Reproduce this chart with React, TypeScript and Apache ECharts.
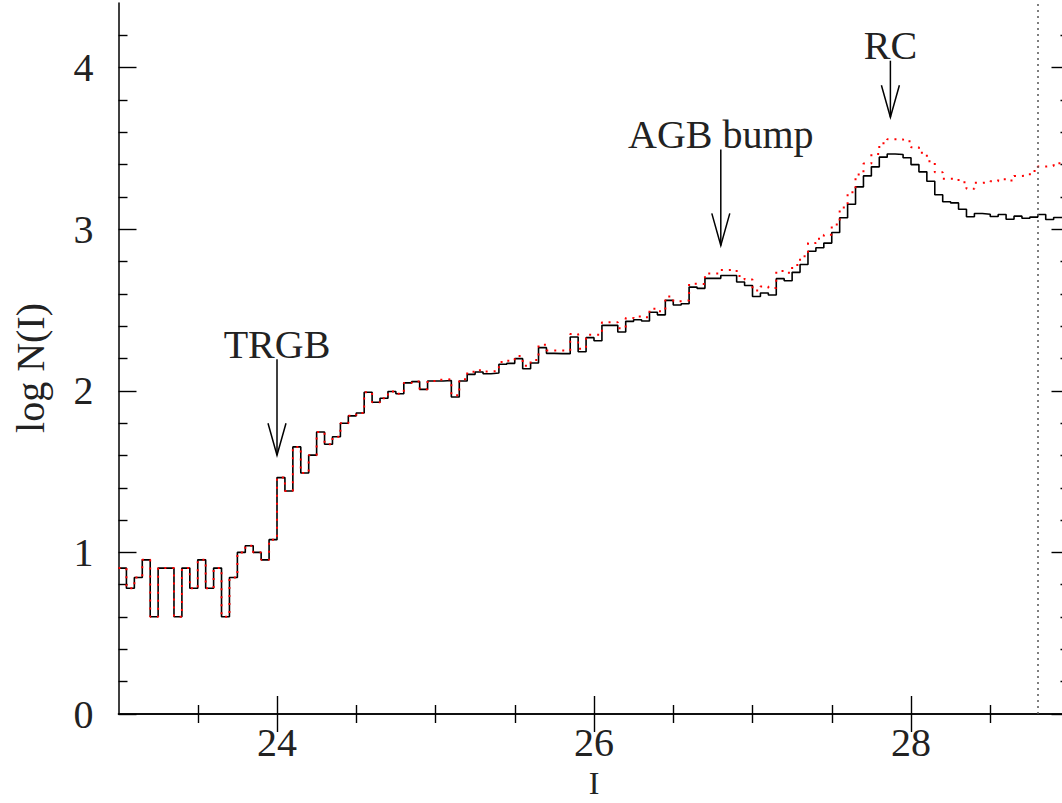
import React, { useEffect, useRef } from "react";
import * as echarts from "echarts";

// Histogram bins: left edges start at 23.00, width 0.05 mag
const BIN_START = 23.0;
const BIN_WIDTH = 0.05;

// log N(I) observed (black solid histogram)
const observedLogN = [
  0.903, 0.778, 0.845, 0.954, 0.602, 0.903, 0.903, 0.602, 0.903, 0.778,
  0.954, 0.778, 0.903, 0.602, 0.845, 1.0, 1.041, 1.0, 0.954, 1.079,
  1.463, 1.38, 1.653, 1.491, 1.602, 1.745, 1.669, 1.716, 1.799, 1.845,
  1.863, 1.991, 1.929, 1.954, 1.996, 1.982, 2.049, 2.057, 2.009, 2.061,
  2.061, 2.064, 1.962, 2.061, 2.102, 2.116, 2.106, 2.11, 2.164, 2.17,
  2.199, 2.137, 2.172, 2.267, 2.232, 2.23, 2.23, 2.333, 2.242, 2.329,
  2.31, 2.405, 2.405, 2.364, 2.43, 2.44, 2.432, 2.486, 2.47, 2.56,
  2.531, 2.539, 2.642, 2.634, 2.696, 2.696, 2.714, 2.714, 2.673, 2.652,
  2.584, 2.605, 2.593, 2.694, 2.681, 2.733, 2.782, 2.864, 2.885, 2.914,
  2.98, 3.071, 3.155, 3.262, 3.33, 3.386, 3.446, 3.466, 3.462, 3.442,
  3.4, 3.355, 3.297, 3.213, 3.17, 3.163, 3.124, 3.077, 3.097, 3.093,
  3.079, 3.091, 3.062, 3.081, 3.068, 3.075, 3.091, 3.06, 3.073, 3.07,
];

// log N(I) corrected (red dotted histogram)
const correctedLogN = [
  0.903, 0.778, 0.845, 0.954, 0.602, 0.903, 0.903, 0.602, 0.903, 0.778,
  0.954, 0.778, 0.903, 0.602, 0.845, 1.0, 1.041, 1.0, 0.954, 1.079,
  1.463, 1.38, 1.653, 1.491, 1.602, 1.745, 1.669, 1.716, 1.799, 1.845,
  1.863, 1.991, 1.929, 1.954, 1.996, 1.982, 2.049, 2.057, 2.009, 2.061,
  2.068, 2.072, 1.972, 2.072, 2.118, 2.128, 2.12, 2.122, 2.178, 2.186,
  2.215, 2.155, 2.19, 2.285, 2.25, 2.25, 2.248, 2.351, 2.261, 2.347,
  2.346, 2.424, 2.424, 2.387, 2.45, 2.46, 2.455, 2.508, 2.493, 2.584,
  2.555, 2.559, 2.663, 2.661, 2.726, 2.726, 2.747, 2.749, 2.71, 2.689,
  2.621, 2.646, 2.636, 2.741, 2.731, 2.778, 2.832, 2.914, 2.941, 2.966,
  3.029, 3.134, 3.229, 3.339, 3.406, 3.466, 3.532, 3.557, 3.557, 3.545,
  3.507, 3.473, 3.421, 3.353, 3.312, 3.312, 3.291, 3.25, 3.287, 3.291,
  3.297, 3.31, 3.302, 3.33, 3.334, 3.361, 3.388, 3.392, 3.409, 3.41,
];

// Axis ticks
const xMajorTicks = [24, 26, 28];
const xMinorTicks = [23.5, 24.5, 25, 25.5, 26.5, 27, 27.5, 28.5];
const yMajorTicks = [0, 1, 2, 3, 4];
const yMinorTicks = [
  0.2, 0.4, 0.6, 0.8, 1.2, 1.4, 1.6, 1.8, 2.2, 2.4, 2.6, 2.8, 3.2, 3.4, 3.6,
  3.8, 4.2,
];

// Completeness limit (dotted vertical line)
const limitMag = 28.8;

// Annotations
const annoLabels = ["TRGB", "AGB bump", "RC"];
const annoX = [24.0, 26.8, 27.87];
const annoTop = [2.195, 3.493, 4.043];
const annoTip = [1.601, 2.9, 3.693];

const FONT = "Liberation Serif";
const TEXT_COLOR = "#222";

function toSteps(vals: number[]) {
  const pts: number[][] = vals.map((v, i) => [
    +(BIN_START + i * BIN_WIDTH).toFixed(3),
    v,
  ]);
  pts.push([
    +(BIN_START + vals.length * BIN_WIDTH).toFixed(3),
    vals[vals.length - 1],
  ]);
  return pts;
}

export default function App() {
  const ref = useRef<HTMLDivElement>(null);

  useEffect(() => {
    if (!ref.current) return;
    const chart = echarts.init(ref.current, null, { renderer: "svg" });

    const axisLine = { show: true, lineStyle: { color: "#000", width: 1.5 } };
    const tickStyle = { color: "#000", width: 1.4 };

    const xBase = {
      type: "value",
      min: 23,
      max: 29,
      splitLine: { show: false },
      minorTick: { show: false },
    };
    const yBase = {
      type: "value",
      min: 0,
      max: 4.4,
      splitLine: { show: false },
      minorTick: { show: false },
    };

    const option: any = {
      animation: false,
      backgroundColor: "#fff",
      grid: {
        left: 118.5,
        top: 3,
        width: 951,
        height: 711,
        containLabel: false,
        outerBoundsMode: "none",
      },
      xAxis: [
        {
          ...xBase,
          position: "bottom",
          axisLine,
          axisTick: {
            show: true,
            inside: true,
            length: 18,
            customValues: xMajorTicks,
            lineStyle: tickStyle,
          },
          axisLabel: {
            show: true,
            customValues: xMajorTicks,
            margin: 12,
            lineHeight: 32,
            fontFamily: FONT,
            fontSize: 40,
            color: TEXT_COLOR,
          },
        },
        {
          ...xBase,
          position: "bottom",
          axisLine: { show: false },
          axisTick: {
            show: true,
            inside: true,
            length: 9,
            customValues: xMinorTicks,
            lineStyle: tickStyle,
          },
          axisLabel: { show: false },
        },
        {
          ...xBase,
          position: "top",
          axisLine,
          axisTick: {
            show: true,
            inside: true,
            length: 18,
            customValues: xMajorTicks,
            lineStyle: tickStyle,
          },
          axisLabel: { show: false },
        },
        {
          ...xBase,
          position: "top",
          axisLine: { show: false },
          axisTick: {
            show: true,
            inside: true,
            length: 9,
            customValues: xMinorTicks,
            lineStyle: tickStyle,
          },
          axisLabel: { show: false },
        },
      ],
      yAxis: [
        {
          ...yBase,
          position: "left",
          axisLine,
          axisTick: {
            show: true,
            inside: true,
            length: 18,
            customValues: yMajorTicks,
            lineStyle: tickStyle,
          },
          axisLabel: {
            show: true,
            customValues: yMajorTicks,
            margin: 25,
            fontFamily: FONT,
            fontSize: 40,
            color: TEXT_COLOR,
          },
        },
        {
          ...yBase,
          position: "left",
          axisLine: { show: false },
          axisTick: {
            show: true,
            inside: true,
            length: 9,
            customValues: yMinorTicks,
            lineStyle: tickStyle,
          },
          axisLabel: { show: false },
        },
        {
          ...yBase,
          position: "right",
          axisLine,
          axisTick: {
            show: true,
            inside: true,
            length: 18,
            customValues: yMajorTicks,
            lineStyle: tickStyle,
          },
          axisLabel: { show: false },
        },
        {
          ...yBase,
          position: "right",
          axisLine: { show: false },
          axisTick: {
            show: true,
            inside: true,
            length: 9,
            customValues: yMinorTicks,
            lineStyle: tickStyle,
          },
          axisLabel: { show: false },
        },
      ],
      graphic: [
        {
          type: "text",
          x: 30,
          y: 368,
          rotation: Math.PI / 2,
          style: {
            text: "log N(I)",
            fontFamily: FONT,
            fontSize: 40,
            fill: TEXT_COLOR,
            align: "center",
            verticalAlign: "middle",
          },
        },
        {
          type: "text",
          x: 594,
          y: 783,
          style: {
            text: "I",
            fontFamily: FONT,
            fontSize: 32,
            lineHeight: 28,
            fill: TEXT_COLOR,
            align: "center",
            verticalAlign: "middle",
          },
        },
      ],
      series: [
        {
          type: "line",
          name: "observed",
          xAxisIndex: 0,
          yAxisIndex: 0,
          data: toSteps(observedLogN),
          step: "end",
          symbol: "none",
          showSymbol: false,
          lineStyle: { color: "#000", width: 1.6 },
          z: 3,
          markLine: {
            silent: true,
            symbol: "none",
            label: { show: false },
            lineStyle: { color: "#555", width: 1.5, type: [2, 4] },
            data: [{ xAxis: limitMag }],
          },
        },
        {
          type: "line",
          name: "corrected",
          xAxisIndex: 0,
          yAxisIndex: 0,
          data: toSteps(correctedLogN),
          step: "end",
          symbol: "none",
          showSymbol: false,
          lineStyle: { color: "#ff0000", width: 2, type: [2, 6] },
          z: 4,
        },
        {
          type: "custom",
          name: "annotations",
          xAxisIndex: 0,
          yAxisIndex: 0,
          clip: false,
          z: 5,
          data: annoX.map((x, i) => [x, annoTop[i], annoTip[i], i]),
          encode: { x: 0, y: 1 },
          renderItem: (params: any, api: any) => {
            const x = api.value(0);
            const top = api.coord([x, api.value(1)]);
            const tip = api.coord([x, api.value(2)]);
            const label = annoLabels[api.value(3)];
            return {
              type: "group",
              children: [
                {
                  type: "line",
                  shape: { x1: top[0], y1: top[1], x2: tip[0], y2: tip[1] },
                  style: { stroke: "#000", lineWidth: 1.5 },
                },
                {
                  type: "polyline",
                  shape: {
                    points: [
                      [tip[0] - 9, tip[1] - 32],
                      [tip[0], tip[1]],
                      [tip[0] + 9, tip[1] - 32],
                    ],
                  },
                  style: { stroke: "#000", lineWidth: 1.5, fill: "none" },
                },
                {
                  type: "text",
                  x: top[0],
                  y: top[1] - 15,
                  style: {
                    text: label,
                    fontFamily: FONT,
                    fontSize: 40,
                    fill: TEXT_COLOR,
                    align: "center",
                    verticalAlign: "middle",
                  },
                },
              ],
            };
          },
        },
      ],
    };

    chart.setOption(option);
    return () => chart.dispose();
  }, []);

  return (
    <div
      style={{
        position: "absolute",
        left: 0,
        top: 0,
        width: 1062,
        height: 803,
        overflow: "hidden",
        background: "#fff",
      }}
    >
      <div ref={ref} style={{ width: 1080, height: 803 }} />
    </div>
  );
}
